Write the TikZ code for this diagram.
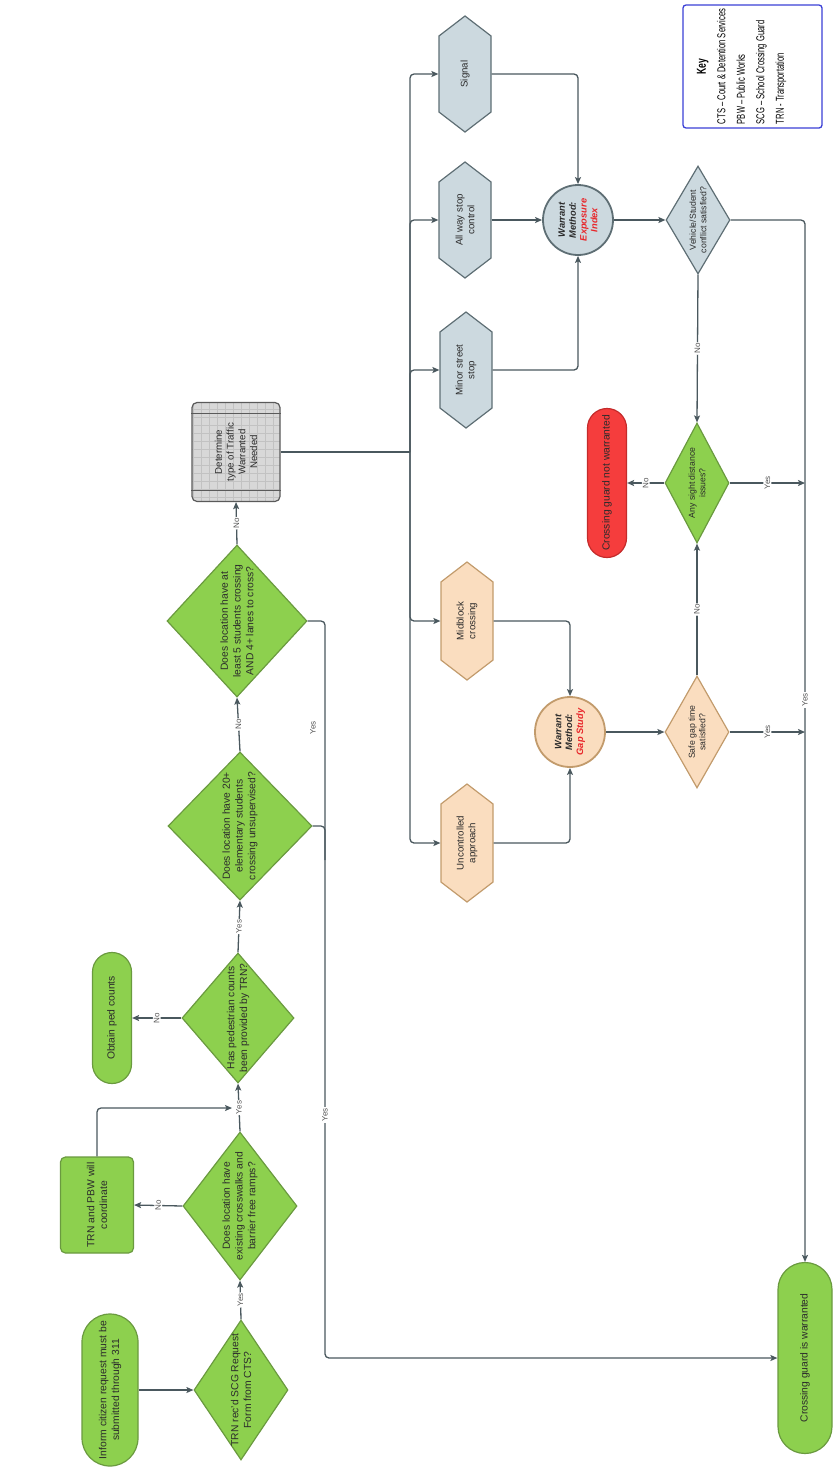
\documentclass[tikz,border=0pt]{standalone}
\usepackage{fontspec}
\setmainfont{Liberation Sans}
\usepackage{graphicx}
\usetikzlibrary{shapes.geometric,shapes.symbols,shapes.misc,arrows.meta}
\definecolor{gfill}{HTML}{8DD04E}
\definecolor{gdraw}{HTML}{6A9A3F}
\definecolor{pfill}{HTML}{FADDBF}
\definecolor{pdraw}{HTML}{C29B6C}
\definecolor{bfill}{HTML}{CCD9DF}
\definecolor{bdraw}{HTML}{5E6E74}
\definecolor{rfill}{HTML}{F53D3D}
\definecolor{rdraw}{HTML}{C42B2B}
\definecolor{cline}{HTML}{4A585E}
\definecolor{txt}{HTML}{2B2B2B}
\definecolor{lbl}{HTML}{555555}
\definecolor{keyblue}{HTML}{3B40D6}
\definecolor{dfill}{HTML}{D8D8D8}
\definecolor{dgrid}{HTML}{C2C2C2}
\definecolor{ddraw}{HTML}{5A5A5A}
\definecolor{wred}{HTML}{E8262A}
\tikzset{
  base/.style={text=txt, align=center, font=\fontsize{10.3}{12.8}\selectfont},
  term/.style={base, rounded rectangle, draw=gdraw, fill=gfill, line width=1.2pt, inner sep=1pt},
  gbox/.style={base, rectangle, rounded corners=5pt, draw=gdraw, fill=gfill, line width=1.2pt},
  dia/.style={base, diamond, draw=gdraw, fill=gfill, line width=1.2pt, inner sep=-25pt},
  sdia/.style={dia, font=\fontsize{8.7}{10.7}\selectfont},
  hexa/.style={base, signal, signal to=east and west, signal pointer angle=105, line width=1.2pt, inner sep=0pt, font=\fontsize{9.7}{11.7}\selectfont, minimum height=52pt},
  bhex/.style={hexa, draw=bdraw, fill=bfill, minimum width=116pt},
  phex/.style={hexa, draw=pdraw, fill=pfill, minimum width=118pt},
  circ/.style={base, circle, minimum size=70pt, line width=1.8pt, inner sep=-6pt, font=\fontsize{9.3}{10.8}\selectfont\bfseries\itshape},
  detbox/.style={base, rectangle, rounded corners=5pt, draw=ddraw, fill=dfill, line width=1.2pt,
    font=\fontsize{9.7}{11.7}\selectfont, minimum width=99pt, minimum height=88pt,
    path picture={\draw[dgrid, line width=0.4pt, step=8pt] (path picture bounding box.south west) grid (path picture bounding box.north east);}},
  conn/.style={draw=cline, line width=1.3pt, rounded corners=4pt, -{Stealth[length=7pt,width=6pt,inset=1.5pt]}},
  wire/.style={draw=cline, line width=1.3pt, rounded corners=4pt},
  yn/.style={font=\fontsize{8}{9}\selectfont, text=lbl, fill=white, inner sep=1.2pt},
  keybox/.style={rectangle, draw=keyblue, line width=1.3pt, rounded corners=3pt, minimum width=123pt, minimum height=139pt, fill=white},
  keytext/.style={text=black, align=left, font=\fontsize{11.5}{19.5}\selectfont, inner sep=0pt},
}
\begin{document}
\begin{tikzpicture}[x=1pt,y=1pt]
\useasboundingbox (0,0) rectangle (833,-1468);
\begin{scope}[rotate=90, transform shape]
% nodes (landscape coordinates)
\node[term, minimum width=154pt, minimum height=56pt] (inform) at (-1390,-110) {Inform citizen request must be\\submitted through 311};
\node[dia, minimum width=140pt, minimum height=94pt] (trn) at (-1390,-241) {TRN rec'd SCG Request\\Form from CTS?};
\node[dia, minimum width=148pt, minimum height=114pt] (cross) at (-1206,-240) {Does location have\\existing crosswalks and\\barrier free ramps?};
\node[gbox, minimum width=96pt, minimum height=73pt] (pbw) at (-1205,-97) {TRN and PBW will\\coordinate};
\node[dia, minimum width=130pt, minimum height=112pt] (ped) at (-1018,-238) {Has pedestrian counts\\been provided by TRN?};
\node[term, minimum width=133pt, minimum height=39pt] (obtain) at (-1018,-112) {Obtain ped counts};
\node[dia, minimum width=148pt, minimum height=144pt] (d20) at (-826,-240) {Does location have 20+\\elementary students\\crossing unsupervised?};
\node[dia, minimum width=152pt, minimum height=140pt] (d5) at (-621,-237) {Does location have at\\least 5 students crossing\\AND 4+ lanes to cross?};
\node[detbox] (det) at (-452,-236) {Determine\\type of Traffic\\Warranted\\Needed};
\draw[ddraw, line width=1pt] ([xshift=12pt]det.north west) -- ([xshift=12pt]det.south west);
\draw[ddraw, line width=1pt] ([xshift=-12pt]det.north east) -- ([xshift=-12pt]det.south east);
\node[bhex] (signal) at (-74,-465) {Signal};
\node[bhex] (allway) at (-220,-465) {All way stop\\control};
\node[bhex] (minor) at (-370,-466) {Minor street\\stop};
\node[phex] (mid) at (-621,-467) {Midblock\\crossing};
\node[phex] (unc) at (-843,-467) {Uncontrolled\\approach};
\node[circ, draw=bdraw, fill=bfill] (expo) at (-220,-578) {Warrant\\Method:\\\textcolor{wred}{Exposure}\\\textcolor{wred}{Index}};
\node[circ, draw=pdraw, fill=pfill] (gap) at (-732,-570) {Warrant\\Method:\\\textcolor{wred}{Gap Study}};
\node[sdia, draw=bdraw, fill=bfill, minimum width=108pt, minimum height=64pt] (veh) at (-220,-698) {Vehicle/Student\\conflict satisfied?};
\node[sdia, minimum width=120pt, minimum height=64pt] (any) at (-483,-697) {Any sight distance\\issues?};
\node[sdia, draw=pdraw, fill=pfill, minimum width=112pt, minimum height=64pt] (safe) at (-732,-697) {Safe gap time\\satisfied?};
\node[term, draw=rdraw, fill=rfill, minimum width=151pt, minimum height=39pt] (notw) at (-483,-607) {Crossing guard not warranted};
\node[term, minimum width=193pt, minimum height=54pt] (warr) at (-1358,-805) {Crossing guard is warranted};
\node[keybox] (key) at (-66.5,-752.5) {};
\node[keytext] (keyt) at (-66.5,-741) {\scalebox{0.66}[1]{\begin{tabular}{@{}l@{}}\multicolumn{1}{@{}c@{}}{\bfseries\fontsize{13}{19.5}\selectfont Key}\\CTS – Court \& Detention Services\\PBW – Public Works\\SCG – School Crossing Guard\\TRN - Transportation\end{tabular}}};
% connectors
\draw[conn] (inform.south) -- (trn.north);
\draw[conn] (trn.east) -- node[yn]{Yes} (cross.west);
\draw[conn] (cross.north) -- node[yn]{No} (pbw.south);
\coordinate (pbwj) at (-1108,-232);
\draw[conn] (pbw.east) -| (pbwj);
\draw[conn] (cross.east) -- node[yn]{Yes} (ped.west);
\draw[conn] (ped.north) -- node[yn]{No} (obtain.south);
\draw[conn] (ped.east) -- node[yn]{Yes} (d20.west);
\draw[conn] (d20.east) -- node[yn]{No} (d5.west);
\draw[conn] (d5.east) -- node[yn]{No} (det.west);
\coordinate (yline) at (-1000,-325);
\coordinate (d20j) at (-860,-325);
\draw[conn] (d5.south) |- (yline) -| (warr.north);
\draw[wire] (d20.south) |- (d20j);
\node[yn] (yes1) at (-1115,-325) {Yes};
\node[yn, fill=none] (yes2) at (-728,-313) {Yes};
\coordinate (bus) at (-452,-410);
\draw[wire] (det.south) -- (bus);
\foreach \n in {signal,allway,minor,mid,unc} \draw[conn] (bus) -| (\n.north);
\draw[conn] (signal.south) |- (expo.east);
\draw[conn] (allway.south) -- (expo.north);
\draw[conn] (minor.south) |- (expo.west);
\draw[conn] (expo.south) -- (veh.north);
\draw[conn] (veh.west) -- node[yn]{No} (any.east);
\draw[conn] (veh.south) |- (warr.east);
\node[yn] (yes3) at (-700,-805) {Yes};
\draw[conn] (any.north) -- node[yn]{No} (notw.south);
\coordinate (anyj) at (-483,-805);
\draw[conn] (any.south) -- node[yn]{Yes} (anyj);
\draw[conn] (safe.east) -- node[yn]{No} (any.west);
\coordinate (safej) at (-732,-805);
\draw[conn] (safe.south) -- node[yn]{Yes} (safej);
\draw[conn] (mid.south) |- (gap.east);
\draw[conn] (unc.south) |- (gap.west);
\draw[conn] (gap.south) -- (safe.north);
\end{scope}
\end{tikzpicture}
\end{document}
